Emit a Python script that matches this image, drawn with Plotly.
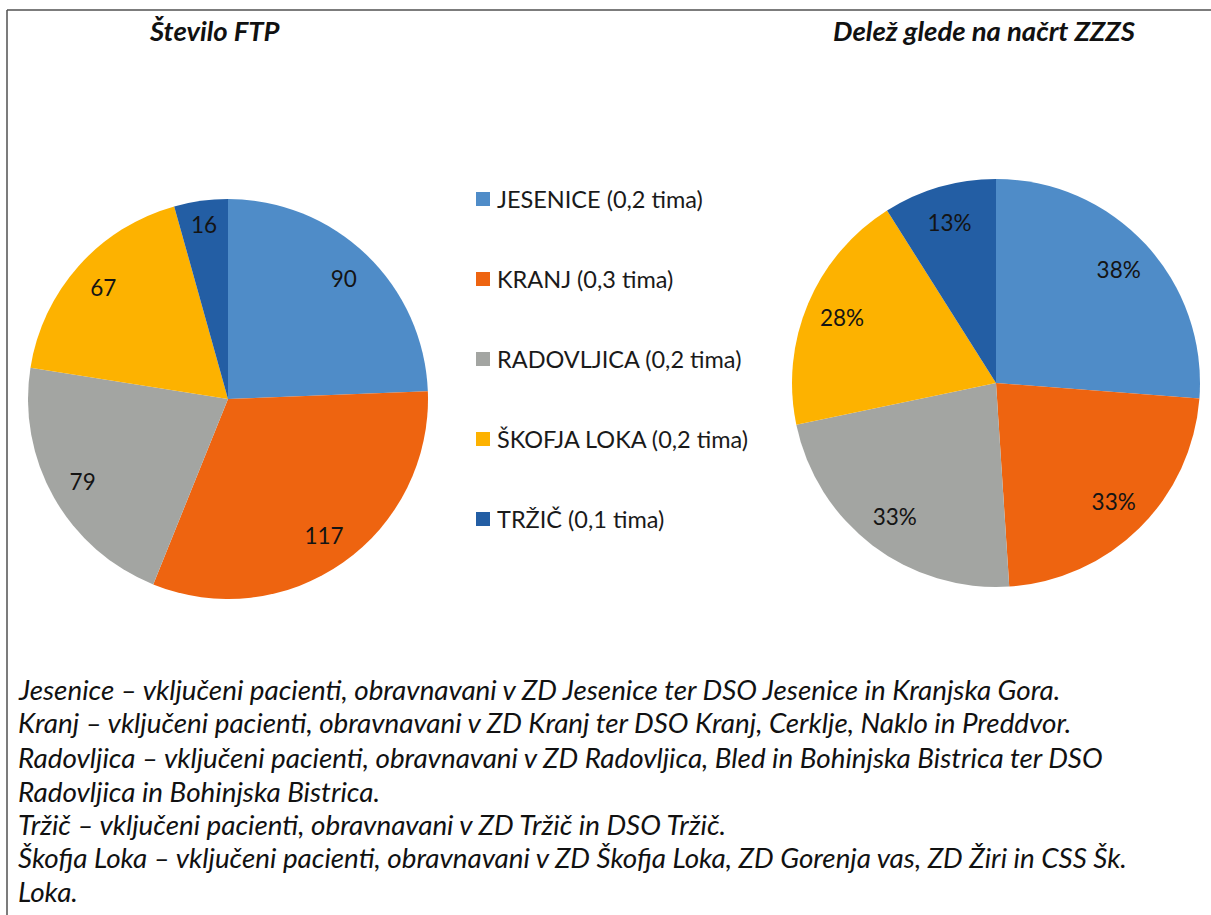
import plotly.graph_objects as go

# ---------------- data ----------------
labels = ["JESENICE (0,2 tima)", "KRANJ (0,3 tima)", "RADOVLJICA (0,2 tima)",
          "ŠKOFJA LOKA (0,2 tima)", "TRŽIČ (0,1 tima)"]
ftp_counts = [90, 117, 79, 67, 16]
plan_shares = [0.38, 0.33, 0.33, 0.28, 0.13]
colors = ["#4F8CC8", "#EE6410", "#A3A5A2", "#FDB200", "#235EA4"]
titles = ["Število FTP", "Delež glede na načrt ZZZS"]
notes = [
    "Jesenice – vključeni pacienti, obravnavani v ZD Jesenice ter DSO Jesenice in Kranjska Gora.",
    "Kranj – vključeni pacienti, obravnavani v ZD Kranj ter DSO Kranj, Cerklje, Naklo in Preddvor.",
    "Radovljica – vključeni pacienti, obravnavani v ZD Radovljica, Bled in Bohinjska Bistrica ter DSO",
    "Radovljica in Bohinjska Bistrica.",
    "Tržič – vključeni pacienti, obravnavani v ZD Tržič in DSO Tržič.",
    "Škofja Loka – vključeni pacienti, obravnavani v ZD Škofja Loka, ZD Gorenja vas, ZD Žiri in CSS Šk.",
    "Loka.",
]

# ---------------- layout helpers (pixel -> paper) ----------------
W, H = 1211, 915
FONT = "Lato"


def fx(x):
    return x / W


def fy(y):
    return 1 - y / H


def dom(x0, y0, x1, y1):
    return dict(x=[fx(x0), fx(x1)], y=[fy(y1), fy(y0)])


left_dom = dom(28, 199, 428, 599)
right_dom = dom(792, 179, 1200, 587)

fig = go.Figure()

pie_common = dict(sort=False, direction="clockwise", rotation=0, showlegend=False)

# filled pies
fig.add_trace(go.Pie(labels=labels, values=ftp_counts, domain=left_dom,
                     marker=dict(colors=colors, line=dict(width=0)),
                     textinfo="none", hoverinfo="label+value", **pie_common))
fig.add_trace(go.Pie(labels=labels, values=plan_shares, domain=right_dom,
                     marker=dict(colors=colors, line=dict(width=0)),
                     textinfo="none", hovertemplate="%{label}: %{value:.0%}<extra></extra>",
                     **pie_common))

# transparent ring overlays carrying the data labels (places them near the rim)
clear = ["rgba(0,0,0,0)"] * len(labels)
label_font = dict(family=FONT, size=22.5, color="#141414")
fig.add_trace(go.Pie(labels=labels, values=ftp_counts, domain=left_dom, hole=0.67,
                     marker=dict(colors=clear, line=dict(width=0)),
                     textinfo="value", textposition="inside",
                     insidetextorientation="horizontal", textfont=label_font,
                     hoverinfo="skip", **pie_common))
fig.add_trace(go.Pie(labels=labels, values=plan_shares, domain=right_dom, hole=0.64,
                     marker=dict(colors=clear, line=dict(width=0)),
                     texttemplate="%{value:.0%}", textposition="inside",
                     insidetextorientation="horizontal", textfont=label_font,
                     hoverinfo="skip", **pie_common))

annotations = []
shapes = []

# titles
for t, cx in zip(titles, [214, 984]):
    annotations.append(dict(x=fx(cx), y=fy(30), xref="paper", yref="paper",
                            text=t, showarrow=False, xanchor="center", yanchor="middle",
                            font=dict(family=FONT, size=27.5, color="#111111",
                                      weight="bold", style="italic")))

# legend (manual, to reproduce the wide vertical spacing)
row_y = [199, 279, 359, 439, 519]
for lab, col, ry in zip(labels, colors, row_y):
    shapes.append(dict(type="rect", xref="paper", yref="paper",
                       x0=fx(476), x1=fx(490), y0=fy(ry + 7), y1=fy(ry - 7),
                       fillcolor=col, line=dict(width=0)))
    annotations.append(dict(x=fx(495), y=fy(ry), xref="paper", yref="paper",
                            text=lab, showarrow=False, xanchor="left", yanchor="middle",
                            font=dict(family=FONT, size=23.5, color="#1a1a1a")))

# explanatory notes
note_y = [689, 722, 757, 791, 824, 857, 891]
for n, ny in zip(notes, note_y):
    annotations.append(dict(x=fx(16), y=fy(ny), xref="paper", yref="paper",
                            text=n, showarrow=False, xanchor="left", yanchor="middle",
                            font=dict(family=FONT, size=27.8, color="#111111", style="italic")))

# frame lines (top and left)
frame = dict(color="#505050", width=1.5)
shapes.append(dict(type="line", xref="paper", yref="paper",
                   x0=fx(7), x1=1, y0=fy(10), y1=fy(10), line=frame))
shapes.append(dict(type="line", xref="paper", yref="paper",
                   x0=fx(7), x1=fx(7), y0=fy(10), y1=0, line=frame))

fig.update_layout(
    width=W, height=H,
    margin=dict(l=0, r=0, t=0, b=0),
    paper_bgcolor="white", plot_bgcolor="white",
    annotations=annotations, shapes=shapes,
    font=dict(family=FONT),
)

fig.write_html("out.html", config={"displayModeBar": False},
               post_script="document.body.style.margin='0px';document.body.style.overflow='hidden';")
